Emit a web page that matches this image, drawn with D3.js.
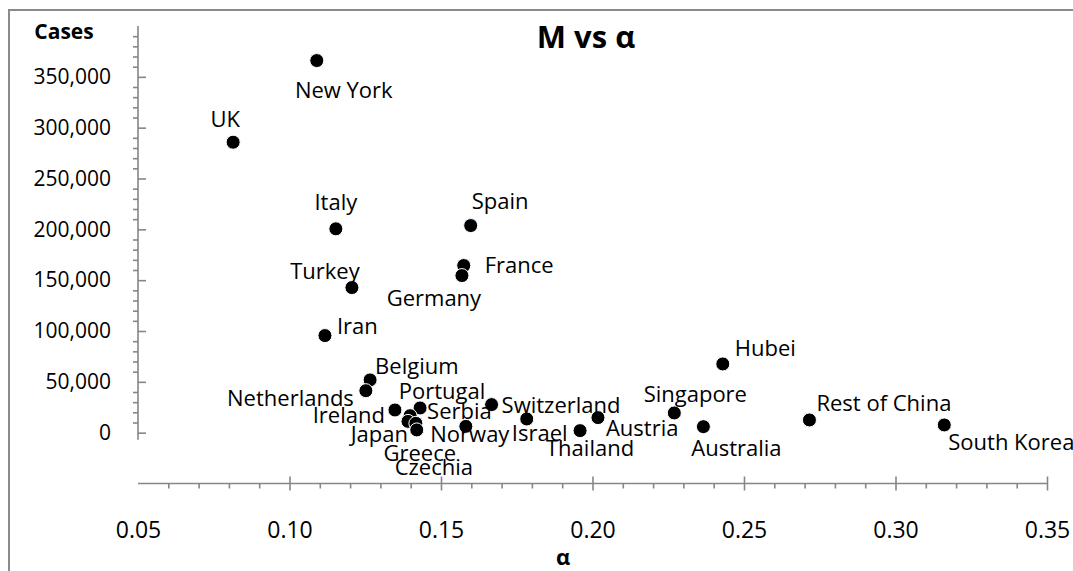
<!DOCTYPE html>
<html>
<head>
<meta charset="utf-8">
<script src="https://cdn.jsdelivr.net/npm/d3@7"></script>
<style>
  body { margin: 0; background: #fff; }
  svg { display: block; font-family: 'Open Sans', sans-serif; }
</style>
</head>
<body>
<svg id="chart" width="1073" height="571"></svg>
<script>
// values
const names = ['New York', 'UK', 'Italy', 'Spain', 'France', 'Germany', 'Turkey', 'Iran',
  'Belgium', 'Netherlands', 'Ireland', 'Portugal', 'Serbia', 'Japan', 'Czechia', 'Greece',
  'Norway', 'Switzerland', 'Israel', 'Thailand', 'Austria', 'Singapore', 'Australia',
  'Hubei', 'Rest of China', 'South Korea'];
const alpha = [0.109, 0.0814, 0.1153, 0.1598, 0.1575, 0.1569, 0.1206, 0.1117,
  0.1266, 0.1252, 0.1348, 0.1431, 0.1398, 0.1391, 0.1417, 0.142,
  0.1582, 0.1667, 0.1783, 0.1959, 0.2018, 0.227, 0.2366,
  0.243, 0.2716, 0.3161];
const cases = [366000, 285700, 200500, 203700, 164400, 154500, 142700, 95500,
  51900, 41300, 22300, 24300, 16700, 11100, 9200, 2700,
  6200, 27600, 13500, 2000, 14800, 19400, 5900,
  67600, 12500, 7600];
const xTicks = [0.05, 0.10, 0.15, 0.20, 0.25, 0.30, 0.35];
const yTicks = [0, 50000, 100000, 150000, 200000, 250000, 300000, 350000];

// where each data label sits relative to its marker: [anchor, dx, dy(baseline)]
const labelPlace = [
  ['middle', 27, 37], ['middle', -8, -15], ['middle', 0, -19], ['start', 1, -17],
  ['start', 21, 7], ['middle', -28, 30], ['middle', -27, -9], ['start', 12, -2],
  ['start', 5, -6], ['end', -12, 15], ['end', -10, 13], ['middle', 22, -9],
  ['start', 17, 3], ['end', 0, 21], ['middle', 18, 52], ['middle', 3, 31],
  ['middle', 4, 16], ['start', 10, 8], ['middle', 13, 22], ['middle', 10, 25],
  ['start', 8, 18], ['middle', 21, -11], ['middle', 33, 29],
  ['start', 12, -8], ['start', 7, -9], ['start', 4, 25]
];

const axisColor = '#868686';
const svg = d3.select('#chart');

// outer chart border (runs off the right and bottom edges)
svg.append('rect')
  .attr('x', 9).attr('y', 10)
  .attr('width', 1100).attr('height', 600)
  .attr('fill', 'none').attr('stroke', '#8a8a8a').attr('stroke-width', 2);

const x = d3.scaleLinear().domain([0.05, 0.35]).range([138, 1047]);
const y = d3.scaleLinear().domain([-50000, 400000]).range([483.5, 26]);

// x axis sits at the bottom of the value range, below zero
const xAxisY = y(-50000);
const xMinor = d3.range(6, 35).filter(d => d % 5 !== 0).map(d => d / 100);

const gxMinor = svg.append('g').attr('transform', `translate(0,${xAxisY})`)
  .call(d3.axisBottom(x).tickValues(xMinor).tickSize(5).tickFormat(''));
gxMinor.select('.domain').remove();

const gx = svg.append('g').attr('transform', `translate(0,${xAxisY})`)
  .call(d3.axisBottom(x).tickValues(xTicks).tickSize(7).tickPadding(31)
    .tickFormat(d3.format('.2f')));
gx.select('.domain').attr('d', `M${x(0.05)},0H${x(0.35)}`);
gx.selectAll('.tick line').attr('y1', -7)
  .filter(d => d === 0.05).remove();
gx.selectAll('.tick text').attr('font-size', 23).attr('fill', '#000');

// y axis
const yMinor = d3.range(10000, 400001, 10000).filter(d => d % 50000 !== 0);
const gyMinor = svg.append('g').attr('transform', `translate(${x(0.05)},0)`)
  .call(d3.axisLeft(y).tickValues(yMinor).tickSize(5).tickFormat(''));
gyMinor.select('.domain').remove();

const gy = svg.append('g').attr('transform', `translate(${x(0.05)},0)`)
  .call(d3.axisLeft(y).tickValues(yTicks).tickSize(8).tickPadding(19)
    .tickFormat(d3.format(',')));
gy.select('.domain').attr('d', `M0,${y(400000)}V${y(0) + 7}`);
gy.selectAll('.tick line').attr('x2', 8);
gy.selectAll('.tick text').attr('font-size', 21).attr('fill', '#000');

svg.selectAll('.domain, .tick line')
  .attr('stroke', axisColor).attr('stroke-width', 1.6);
svg.selectAll('.tick text').attr('font-family', "'Open Sans', sans-serif");

// markers
const pts = names.map((n, i) => ({ name: n, a: alpha[i], c: cases[i], lp: labelPlace[i] }));

svg.append('g').selectAll('circle')
  .data(pts)
  .enter()
  .append('circle')
  .attr('cx', d => x(d.a))
  .attr('cy', d => y(d.c))
  .attr('r', 7)
  .attr('fill', '#000')
  .attr('stroke', '#fff')
  .attr('stroke-width', 1);

svg.append('g').selectAll('text')
  .data(pts)
  .enter()
  .append('text')
  .attr('x', d => x(d.a) + d.lp[1])
  .attr('y', d => y(d.c) + d.lp[2])
  .attr('text-anchor', d => d.lp[0])
  .attr('font-size', 22)
  .attr('fill', '#000')
  .text(d => d.name);

// titles
svg.append('text')
  .attr('x', 586).attr('y', 48)
  .attr('text-anchor', 'middle')
  .attr('font-size', 31).attr('font-weight', 'bold')
  .text('M vs α');

svg.append('text')
  .attr('x', 64).attr('y', 39)
  .attr('text-anchor', 'middle')
  .attr('font-size', 21).attr('font-weight', 'bold')
  .text('Cases');

svg.append('text')
  .attr('x', 563).attr('y', 565)
  .attr('text-anchor', 'middle')
  .attr('font-size', 22).attr('font-weight', 'bold')
  .text('α');
</script>
</body>
</html>
